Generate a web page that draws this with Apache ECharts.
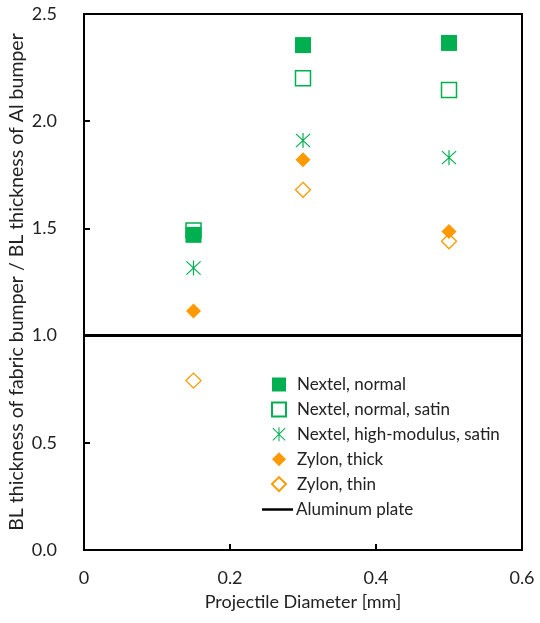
<!DOCTYPE html>
<html>
<head>
<meta charset="utf-8">
<script src="https://cdn.jsdelivr.net/npm/echarts@6/dist/echarts.min.js"></script>
<style>
  html, body { margin: 0; padding: 0; background: #fff; }
  #chart { width: 540px; height: 623px; }
</style>
</head>
<body>
<div id="chart"></div>
<script>
const diameters = [0.15, 0.3, 0.5]
const nextelNormal = [1.47, 2.355, 2.365]
const nextelSatin = [1.49, 2.2, 2.145]
const nextelHighMod = [1.315, 1.91, 1.83]
const zylonThick = [1.115, 1.82, 1.485]
const zylonThin = [0.79, 1.68, 1.44]
const aluminumX = [0, 0.6]
const aluminumY = [1.0, 1.0]

const green = '#00b050'
const orange = '#ff9900'
const font = 'Lato, "Open Sans", sans-serif'

const asterisk = 'path://M9.25,0L10.75,0L10.75,20L9.25,20Z' +
  'M0.7,1.7L1.7,0.7L19.3,18.3L18.3,19.3Z' +
  'M18.3,0.7L19.3,1.7L1.7,19.3L0.7,18.3Z'

const pairs = (ys, xs = diameters) => xs.map((x, i) => [x, ys[i]])

const chart = echarts.init(document.getElementById('chart'))

const legendText = { color: '#222', fontSize: 17, lineHeight: 14, fontFamily: font }

chart.setOption({
  backgroundColor: '#fff',
  animation: false,
  textStyle: { fontFamily: font },
  grid: { left: 84, right: 18, top: 14, bottom: 73, containLabel: false, outerBoundsMode: 'none' },
  xAxis: {
    type: 'value',
    min: 0,
    max: 0.6,
    interval: 0.2,
    name: 'Projectile Diameter [mm]',
    nameLocation: 'middle',
    nameGap: 43,
    nameTextStyle: { color: '#222', fontSize: 18, fontFamily: font },
    axisLine: { show: true, lineStyle: { color: '#000', width: 2 } },
    axisTick: { show: true, inside: true, length: 6, lineStyle: { color: '#000', width: 2 } },
    axisLabel: {
      color: '#222', fontSize: 18, margin: 19,
      formatter: (v) => (v === 0 ? '0' : v.toFixed(1))
    },
    splitLine: { show: false }
  },
  yAxis: {
    type: 'value',
    min: 0,
    max: 2.5,
    interval: 0.5,
    name: 'BL thickness of fabric bumper / BL thickness of Al bumper',
    nameLocation: 'middle',
    nameGap: 57,
    nameMoveOverlap: false,
    nameTextStyle: { color: '#222', fontSize: 19.5, fontFamily: font },
    axisLine: { show: true, lineStyle: { color: '#000', width: 2 } },
    axisTick: { show: true, inside: true, length: 6, lineStyle: { color: '#000', width: 2 } },
    axisLabel: {
      color: '#222', fontSize: 18, margin: 27,
      formatter: (v) => v.toFixed(1)
    },
    splitLine: { show: false }
  },
  legend: [
    {
      orient: 'vertical',
      left: 266,
      top: 371,
      itemWidth: 14,
      itemHeight: 14,
      itemGap: 7.9,
      textStyle: Object.assign({ padding: [0, 0, 0, 6] }, legendText),
      data: [
        'Nextel, normal',
        'Nextel, normal, satin',
        'Nextel, high-modulus, satin',
        'Zylon, thick',
        'Zylon, thin'
      ]
    },
    {
      orient: 'vertical',
      left: 257,
      top: 496,
      itemWidth: 31,
      itemHeight: 2.5,
      textStyle: Object.assign({ padding: [0, 0, 0, -2] }, legendText),
      data: [{ name: 'Aluminum plate', icon: 'rect' }]
    }
  ],
  series: [
    {
      name: 'Aluminum plate',
      type: 'line',
      data: pairs(aluminumY, aluminumX),
      symbol: 'none',
      lineStyle: { color: '#000', width: 3 },
      itemStyle: { color: '#000' },
      z: 1
    },
    {
      name: 'Nextel, normal',
      type: 'scatter',
      data: pairs(nextelNormal),
      symbol: 'rect',
      symbolSize: 16,
      itemStyle: { color: green, opacity: 1 }
    },
    {
      name: 'Nextel, normal, satin',
      type: 'scatter',
      data: pairs(nextelSatin),
      symbol: 'rect',
      symbolSize: 15,
      itemStyle: { color: 'rgba(255,255,255,0)', borderColor: green, borderWidth: 1.5, opacity: 1 }
    },
    {
      name: 'Nextel, high-modulus, satin',
      type: 'scatter',
      data: pairs(nextelHighMod),
      symbol: asterisk,
      symbolSize: 15,
      itemStyle: { color: green, opacity: 1 }
    },
    {
      name: 'Zylon, thick',
      type: 'scatter',
      data: pairs(zylonThick),
      symbol: 'diamond',
      symbolSize: 15,
      itemStyle: { color: orange, opacity: 1 }
    },
    {
      name: 'Zylon, thin',
      type: 'scatter',
      data: pairs(zylonThin),
      symbol: 'diamond',
      symbolSize: 15,
      itemStyle: { color: 'rgba(255,255,255,0)', borderColor: orange, borderWidth: 1.3, opacity: 1 }
    }
  ],
  graphic: [
    {
      type: 'rect',
      shape: { x: 84, y: 14, width: 438, height: 536 },
      style: { fill: 'none', stroke: '#000', lineWidth: 2 },
      silent: true,
      z: 0
    }
  ]
})
</script>
</body>
</html>
